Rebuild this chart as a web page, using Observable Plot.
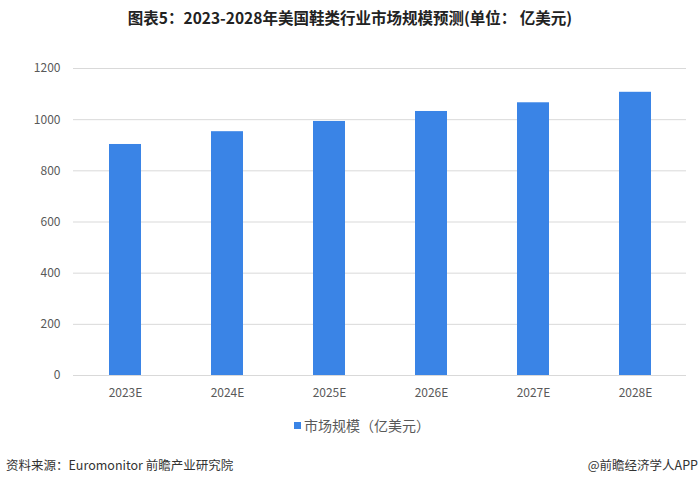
<!DOCTYPE html>
<html>
<head>
<meta charset="utf-8">
<script src="https://cdn.jsdelivr.net/npm/d3@7"></script>
<script src="https://cdn.jsdelivr.net/npm/@observablehq/plot@0.6"></script>
<style>
  html, body { margin: 0; padding: 0; background: #fff; }
  body { width: 700px; height: 486px; position: relative; overflow: hidden; font-family: "Noto Sans CJK SC", "Noto Sans", sans-serif; }
  #title { position: absolute; top: 6px; left: 0; width: 700px; text-align: center; font-size: 15.5px; font-weight: bold; color: #222; }
  #chart { position: absolute; top: 40px; left: 0; }
  #legend { position: absolute; top: 415px; left: 12px; width: 700px; text-align: center; font-size: 14px; color: #595959; }
  #legend .sw { display: inline-block; width: 7px; height: 7px; background: #3a84e6; margin-right: 3px; vertical-align: 2px; }
  #src { position: absolute; top: 455px; left: 6px; font-size: 12.5px; color: #333; }
  #app { position: absolute; top: 455px; right: 2px; font-size: 12.5px; color: #333; }
</style>
</head>
<body>
<div id="title">图表5：2023-2028年美国鞋类行业市场规模预测(单位： 亿美元)</div>
<div id="chart"></div>
<div id="legend"><span class="sw"></span>市场规模（亿美元）</div>
<div id="src">资料来源：Euromonitor 前瞻产业研究院</div>
<div id="app">@前瞻经济学人APP</div>
<script>
const years = ["2023E", "2024E", "2025E", "2026E", "2027E", "2028E"];
const values = [903, 953, 993, 1032, 1066, 1107];
const yTicks = [0, 200, 400, 600, 800, 1000, 1200];

const data = years.map((y, i) => ({year: y, value: values[i]}));

const chart = Plot.plot({
  width: 700,
  height: 370,
  marginTop: 28,
  marginBottom: 35,
  marginLeft: 73,
  marginRight: 14,
  style: {fontFamily: '"Noto Sans CJK SC", sans-serif', fontSize: "12px", color: "#595959", background: "#fff"},
  x: {domain: years, paddingInner: 0.69, paddingOuter: 0.345, label: null},
  y: {domain: [0, 1200], label: null},
  marks: [
    Plot.ruleY(yTicks, {stroke: "#d9d9d9", strokeWidth: 1}),
    Plot.barY(data, {x: "year", y: "value", fill: "#3a84e6"}),
    Plot.axisY({ticks: yTicks, tickFormat: "d", tickSize: 0, tickPadding: 13, label: null}),
    Plot.axisX({tickSize: 0, tickPadding: 13, label: null})
  ]
});
document.getElementById("chart").appendChild(chart);
</script>
</body>
</html>
